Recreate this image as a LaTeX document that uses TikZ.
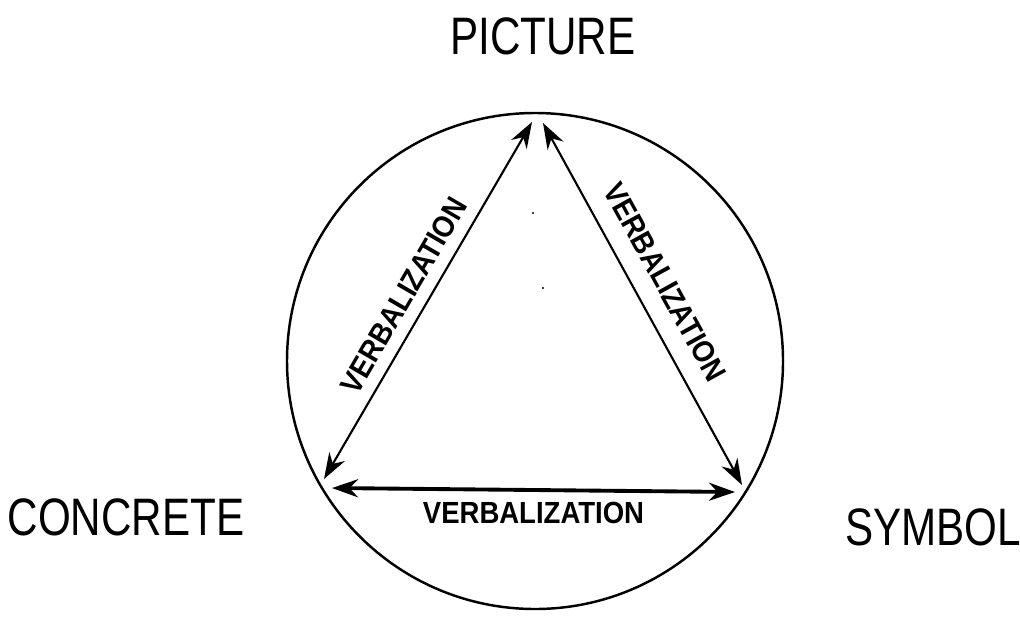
\documentclass[tikz,border=0pt]{standalone}
\usepackage{fontspec}
\setmainfont{Liberation Sans}
\newfontfamily\cornerfont[FakeStretch=0.8]{Liberation Sans}
\newfontfamily\verbfont[FakeStretch=0.9]{Liberation Sans}
\usetikzlibrary{arrows.meta, positioning}

\begin{document}
\begin{tikzpicture}[
        corner/.style={font=\cornerfont\fontsize{15}{18}\selectfont, inner sep=0pt},
        verblabel/.style={font=\verbfont\bfseries\fontsize{8.7}{10}\selectfont, inner sep=1pt},
        link/.style={{Stealth[length=2.6mm, width=1.8mm]}-{Stealth[length=2.6mm, width=1.8mm]}, line width=0.6pt},
        baselink/.style={link, line width=1.1pt},
        ring/.style={draw, line width=0.7pt}
    ]
        % Frame
        \useasboundingbox (0,0) rectangle (10.2,6.17);

        % Circle
        \node[ring, circle, minimum size=4.96cm, inner sep=0pt] (ring) at (5.35, 2.56) {};

        % Corner labels
        \node[corner] (picture) at (5.43, 5.81) {PICTURE};
        \node[corner] (concrete) at (1.26, 1.00) {CONCRETE};
        \node[corner] (symbol) at (9.33, 0.90) {SYMBOL};

        % Arrow ends
        \coordinate (picL) at (5.32, 4.95);
        \coordinate (picR) at (5.43, 4.94);
        \coordinate (conT) at (3.24, 1.38);
        \coordinate (conR) at (3.32, 1.29);
        \coordinate (symT) at (7.42, 1.32);
        \coordinate (symL) at (7.35, 1.25);

        % Verbalization arrows
        \draw[link] (conT) -- (picL) node[verblabel, pos=0.48, sloped, above=0.8mm] {VERBALIZATION};
        \draw[link] (picR) -- (symT) node[verblabel, pos=0.48, sloped, above=1.5mm] {VERBALIZATION};
        \draw[baselink] (conR) -- (symL) node[verblabel, midway, below=0.7mm] {VERBALIZATION};

        % Specks
        \fill (5.33, 4.04) circle (0.012);
        \fill (5.43, 3.29) circle (0.012);
    \end{tikzpicture}
\end{document}
